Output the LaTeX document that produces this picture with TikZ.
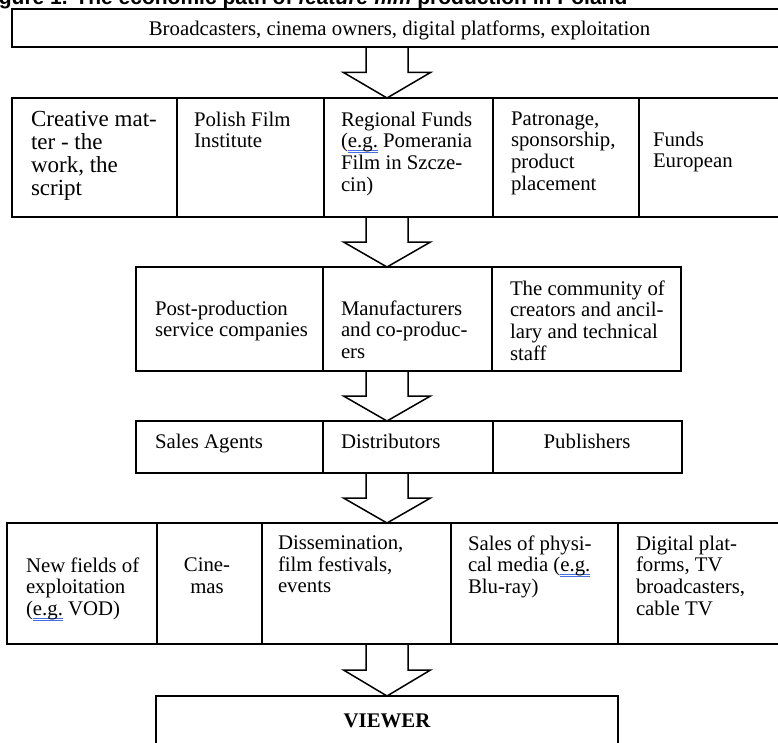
\documentclass[tikz,border=0pt]{standalone}
\usepackage{fontspec}
\setmainfont{Liberation Serif}
\setsansfont{Liberation Sans}
\usetikzlibrary{calc}
\definecolor{ulblue}{RGB}{70,110,225}
\newcommand\egmark{\setbox0\hbox{e.g.}\rlap{\color{ulblue}\rule[-2.6pt]{\wd0}{0.7pt}}\rlap{\color{ulblue}\rule[-4.6pt]{\wd0}{0.7pt}}\box0}
\tikzset{
  cell/.style={draw, line width=1.5pt, rectangle, inner sep=0pt, outer sep=0pt, anchor=north west},
  txt/.style={inner sep=0pt, outer sep=0pt, anchor=north west, align=left, font=\fontsize{20.8}{21.7}\selectfont},
  blockarr/.style={draw, line width=1.5pt, line join=miter}
}
\newcommand\blockarrow[2]{%
  \coordinate (bam) at ($(#1.south)!0.5!(#2.north)$);
  \draw[blockarr] (sl |- #1.south) -- (sl |- bam) -- (hl |- bam) -- (tip |- #2.north) -- (hr |- bam) -- (sr |- bam) -- (sr |- #1.south);}
\begin{document}
\begin{tikzpicture}[x=1pt,y=-1pt]
\clip (0,0) rectangle (778,743);
\fill[white] (0,0) rectangle (778,743);
% caption, cut by the top edge as in the reference
\node[inner sep=0pt, anchor=base west, font=\sffamily\bfseries\fontsize{21}{23}\selectfont] (cap) at (-20,5) {Figure 1. The economic path of \textit{feature film} production in Poland};
% arrow axis
\coordinate (sl) at (366,0);
\coordinate (sr) at (408,0);
\coordinate (hl) at (343.5,0);
\coordinate (hr) at (430.5,0);
\coordinate (tip) at (387,0);
% row 1
\node[cell, fill=white, minimum width=790, minimum height=38] (r1) at (12,9) {};
% row 2
\node[cell, minimum width=165, minimum height=119] (c1) at (12,98) {};
\node[cell, minimum width=147, minimum height=119] (c2) at (177,98) {};
\node[cell, minimum width=169, minimum height=119] (c3) at (324,98) {};
\node[cell, minimum width=146, minimum height=119] (c4) at (493,98) {};
\node[cell, minimum width=170, minimum height=119] (c5) at (639,98) {};
% row 3
\node[cell, minimum width=187, minimum height=104] (m1) at (136,267) {};
\node[cell, minimum width=169, minimum height=104] (m2) at (323,267) {};
\node[cell, minimum width=189, minimum height=104] (m3) at (492,267) {};
% row 4
\node[cell, minimum width=187, minimum height=52] (s1) at (136,421) {};
\node[cell, minimum width=170, minimum height=52] (s2) at (323,421) {};
\node[cell, minimum width=189, minimum height=52] (s3) at (493,421) {};
% row 5
\node[cell, minimum width=150, minimum height=121] (d1) at (7,523) {};
\node[cell, minimum width=105, minimum height=121] (d2) at (157,523) {};
\node[cell, minimum width=189, minimum height=121] (d3) at (262,523) {};
\node[cell, minimum width=167, minimum height=121] (d4) at (451,523) {};
\node[cell, minimum width=190, minimum height=121] (d5) at (618,523) {};
% viewer
\node[cell, minimum width=462, minimum height=80] (v) at (156,696) {};
% block arrows
\blockarrow{r1}{c3}
\blockarrow{c3}{m2}
\blockarrow{m2}{s2}
\blockarrow{s2}{d3}
\blockarrow{d3}{v}
% texts
\node[txt, anchor=base] (t0) at (399.5,35.5) {Broadcasters, cinema owners, digital platforms, exploitation};
\node[txt, font=\fontsize{23}{23.3}\selectfont] (t1) at (31,110.8) {Creative mat-\\ter - the\\work, the\\script};
\node[txt] (t2) at (194,111.6) {Polish Film\\Institute};
\node[txt] (t3) at (341,111.6) {Regional Funds\\(\egmark{} Pomerania\\Film in Szcze-\\cin)};
\node[txt] (t4) at (511,111.6) {Patronage,\\sponsorship,\\product\\placement};
\node[txt] (t5) at (653,131.6) {Funds\\European};
\node[txt] (t6) at (155,300.6) {Post-production\\service companies};
\node[txt] (t7) at (341,300.6) {Manufacturers\\and co-produc-\\ers};
\node[txt] (t8) at (510,280.6) {The community of\\creators and ancil-\\lary and technical\\staff};
\node[txt] (t9) at (155,433.6) {Sales Agents};
\node[txt] (t10) at (341,433.6) {Distributors};
\node[txt, anchor=north] (t11) at (587,433.6) {Publishers};
\node[txt] (t12) at (26,557.6) {New fields of\\exploitation\\(\egmark{} VOD)};
\node[txt, anchor=north, align=center] (t13) at (207,557.6) {Cine-\\mas};
\node[txt] (t14) at (278,535.6) {Dissemination,\\film festivals,\\events};
\node[txt] (t15) at (468,535.6) {Sales of physi-\\cal media (\egmark\\Blu-ray)};
\node[txt] (t16) at (636,535.6) {Digital plat-\\forms, TV\\broadcasters,\\cable TV};
\node[txt, anchor=base, font=\fontsize{20.8}{21.7}\selectfont\bfseries] (t17) at (387,727) {VIEWER};
\end{tikzpicture}
\end{document}
